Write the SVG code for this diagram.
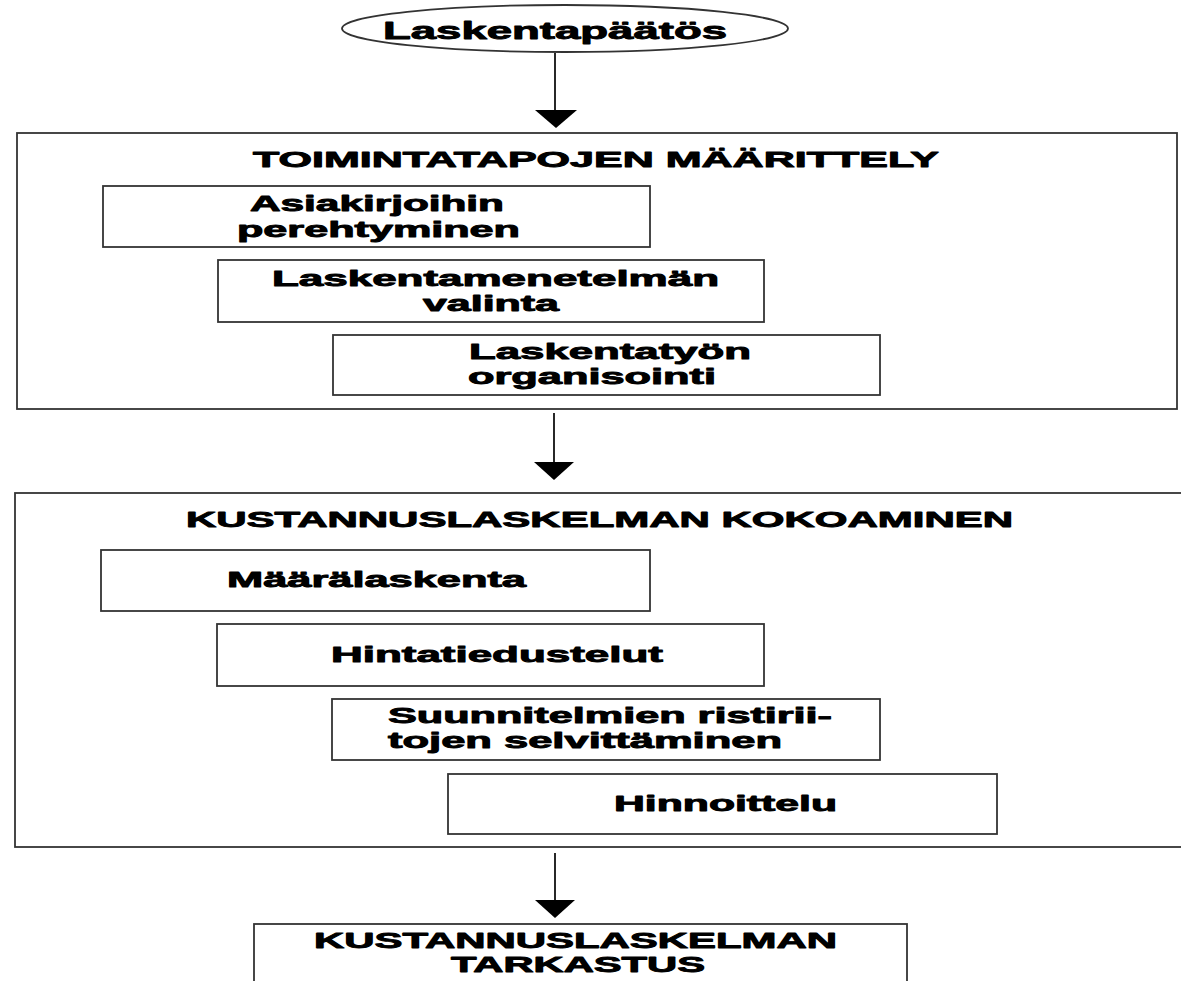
<svg xmlns="http://www.w3.org/2000/svg" width="1181" height="981" viewBox="0 0 1181 981">
<style>
.box{fill:none;stroke:#333;stroke-width:1.8}
.t{font-family:"Liberation Sans",Arial,sans-serif;font-weight:bold;font-size:22px;fill:#000;stroke:#000;stroke-width:0.9;stroke-linejoin:round}
.c{stroke:#111;stroke-width:1.8;fill:none}
.h{fill:#000;stroke:none}
</style>
<rect width="1181" height="981" fill="#fff"/>
<g id="start">
<ellipse class="box" cx="565" cy="28.5" rx="223" ry="23.5"/>
<text class="t" x="383" y="39" style="font-size:24px" textLength="344" lengthAdjust="spacingAndGlyphs">Laskentapäätös</text>
</g>
<g id="toimintatavat">
<rect class="box" x="17" y="133" width="1160" height="276"/>
<text class="t" x="253" y="167" textLength="686" lengthAdjust="spacingAndGlyphs">TOIMINTATAPOJEN MÄÄRITTELY</text>
</g>
<g id="asiakirjat">
<rect class="box" x="103" y="186" width="547" height="61"/>
<text class="t" x="250" y="211" textLength="254" lengthAdjust="spacingAndGlyphs">Asiakirjoihin</text>
<text class="t" x="237" y="237" textLength="283" lengthAdjust="spacingAndGlyphs">perehtyminen</text>
</g>
<g id="menetelma">
<rect class="box" x="218" y="260" width="546" height="62"/>
<text class="t" x="272" y="286" textLength="447" lengthAdjust="spacingAndGlyphs">Laskentamenetelmän</text>
<text class="t" x="423" y="311" textLength="136" lengthAdjust="spacingAndGlyphs">valinta</text>
</g>
<g id="organisointi">
<rect class="box" x="333" y="335" width="547" height="60"/>
<text class="t" x="469" y="359" textLength="282" lengthAdjust="spacingAndGlyphs">Laskentatyön</text>
<text class="t" x="468" y="384" textLength="248" lengthAdjust="spacingAndGlyphs">organisointi</text>
</g>
<g id="kokoaminen">
<rect class="box" x="15" y="493" width="1180" height="354"/>
<text class="t" x="186" y="527" textLength="827" lengthAdjust="spacingAndGlyphs">KUSTANNUSLASKELMAN KOKOAMINEN</text>
</g>
<g id="maaralaskenta">
<rect class="box" x="101" y="550" width="549" height="61"/>
<text class="t" x="227" y="587" textLength="299" lengthAdjust="spacingAndGlyphs">Määrälaskenta</text>
</g>
<g id="hintatiedustelut">
<rect class="box" x="217" y="624" width="547" height="62"/>
<text class="t" x="331" y="662" textLength="332" lengthAdjust="spacingAndGlyphs">Hintatiedustelut</text>
</g>
<g id="ristiriidat">
<rect class="box" x="332" y="699" width="548" height="61"/>
<text class="t" x="388" y="723" textLength="444" lengthAdjust="spacingAndGlyphs">Suunnitelmien ristirii-</text>
<text class="t" x="388" y="748" textLength="394" lengthAdjust="spacingAndGlyphs">tojen selvittäminen</text>
</g>
<g id="hinnoittelu">
<rect class="box" x="448" y="774" width="549" height="60"/>
<text class="t" x="614" y="811" textLength="223" lengthAdjust="spacingAndGlyphs">Hinnoittelu</text>
</g>
<g id="tarkastus">
<rect class="box" x="254" y="924" width="653" height="80"/>
<text class="t" x="314" y="948" textLength="523" lengthAdjust="spacingAndGlyphs">KUSTANNUSLASKELMAN</text>
<text class="t" x="451" y="972" textLength="254" lengthAdjust="spacingAndGlyphs">TARKASTUS</text>
</g>
<g id="connectors">
<line class="c" x1="555" y1="53" x2="555" y2="112"/>
<polygon class="h" points="535,110 577,110 556,128"/>
<line class="c" x1="554" y1="413" x2="554" y2="464"/>
<polygon class="h" points="534,462 574,462 554,480"/>
<line class="c" x1="555" y1="853" x2="555" y2="902"/>
<polygon class="h" points="535,900 575,900 555,918"/>
</g>
</svg>
